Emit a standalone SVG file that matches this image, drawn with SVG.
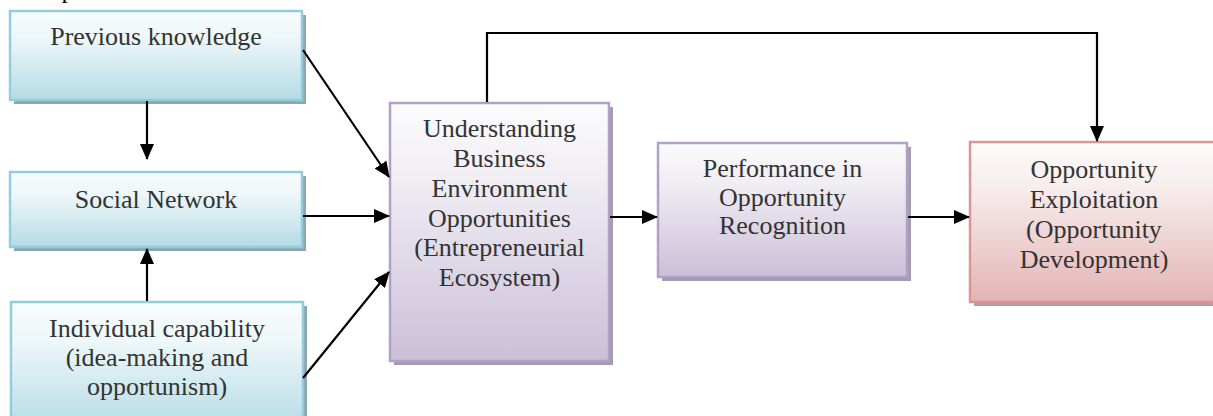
<svg xmlns="http://www.w3.org/2000/svg" width="1213" height="416" viewBox="0 0 1213 416">
  <defs>
    <linearGradient id="gAqua" x1="0" y1="0" x2="0" y2="1">
      <stop offset="0" stop-color="#f7fbfc"/>
      <stop offset="0.3" stop-color="#eef7f9"/>
      <stop offset="1" stop-color="#b4dbe5"/>
    </linearGradient>
    <linearGradient id="gLilac" x1="0" y1="0" x2="0" y2="1">
      <stop offset="0" stop-color="#fbfbfc"/>
      <stop offset="0.3" stop-color="#f0edf3"/>
      <stop offset="1" stop-color="#cbbfd9"/>
    </linearGradient>
    <linearGradient id="gRose" x1="0" y1="0" x2="0" y2="1">
      <stop offset="0" stop-color="#fdfbfb"/>
      <stop offset="0.3" stop-color="#f7ecec"/>
      <stop offset="1" stop-color="#e3b4b3"/>
    </linearGradient>
    <marker id="arrow" viewBox="0 0 16 14" refX="15" refY="7" markerWidth="16" markerHeight="14" markerUnits="userSpaceOnUse" orient="auto">
      <path d="M0,0 L16,7 L0,14 z" fill="#000"/>
    </marker>
  </defs>
  <style>
    .lbl { font-family: "Liberation Serif", "Times New Roman", serif; font-size: 26px; fill: #333; text-anchor: middle; }
    .aqua { fill: url(#gAqua); stroke: #93cddd; stroke-width: 2.5; }
    .aqua-sh { fill: #8ea7ae; }
    .lilac { fill: url(#gLilac); stroke: #b2a1c7; stroke-width: 2.5; }
    .lilac-sh { fill: #a49caf; }
    .rose { fill: url(#gRose); stroke: #d99694; stroke-width: 2.5; }
    .rose-sh { fill: #b59e9e; }
    .conn path { fill: none; stroke: #000; stroke-width: 2.2; }
  </style>
  <rect width="1213" height="416" fill="#fff"/>

  <!-- heading text cut off by the top edge -->
  <text class="lbl" x="68" y="-2" style="fill:#000">p</text>

  <g id="previous-knowledge">
    <rect class="aqua-sh" x="14" y="15" width="292" height="89"/>
    <rect class="aqua" x="10" y="11" width="292" height="89"/>
    <text class="lbl" x="156" y="45">Previous knowledge</text>
  </g>

  <g id="social-network">
    <rect class="aqua-sh" x="14" y="176" width="292" height="75"/>
    <rect class="aqua" x="10" y="172" width="292" height="75"/>
    <text class="lbl" x="156" y="208">Social Network</text>
  </g>

  <g id="individual-capability">
    <rect class="aqua-sh" x="15" y="306" width="292" height="130"/>
    <rect class="aqua" x="11" y="302" width="292" height="130"/>
    <text class="lbl" x="157" y="337">Individual capability</text>
    <text class="lbl" x="157" y="366">(idea-making and</text>
    <text class="lbl" x="157" y="395">opportunism)</text>
  </g>

  <g id="business-environment">
    <rect class="lilac-sh" x="394" y="107" width="219" height="258"/>
    <rect class="lilac" x="390" y="103" width="219" height="258"/>
    <text class="lbl" x="499.5" y="137">Understanding</text>
    <text class="lbl" x="499.5" y="167">Business</text>
    <text class="lbl" x="499.5" y="197">Environment</text>
    <text class="lbl" x="499.5" y="227">Opportunities</text>
    <text class="lbl" x="499.5" y="256">(Entrepreneurial</text>
    <text class="lbl" x="499.5" y="286">Ecosystem)</text>
  </g>

  <g id="opportunity-recognition">
    <rect class="lilac-sh" x="662" y="147" width="249" height="134"/>
    <rect class="lilac" x="658" y="143" width="249" height="134"/>
    <text class="lbl" x="782.5" y="177">Performance in</text>
    <text class="lbl" x="782.5" y="206">Opportunity</text>
    <text class="lbl" x="782.5" y="234">Recognition</text>
  </g>

  <g id="opportunity-exploitation">
    <rect class="rose-sh" x="974" y="146" width="249" height="160"/>
    <rect class="rose" x="970" y="142" width="249" height="160"/>
    <text class="lbl" x="1094" y="178">Opportunity</text>
    <text class="lbl" x="1094" y="208">Exploitation</text>
    <text class="lbl" x="1094" y="238">(Opportunity</text>
    <text class="lbl" x="1094" y="268">Development)</text>
  </g>

  <g id="connectors" class="conn">
    <path d="M147,101 L147,159" marker-end="url(#arrow)"/>
    <path d="M147,301 L147,249" marker-end="url(#arrow)"/>
    <path d="M303,50 L389,177" marker-end="url(#arrow)"/>
    <path d="M303,216 L389,216" marker-end="url(#arrow)"/>
    <path d="M303,378 L389,272" marker-end="url(#arrow)"/>
    <path d="M610,217 L657,217" marker-end="url(#arrow)"/>
    <path d="M908,217 L969,217" marker-end="url(#arrow)"/>
    <path d="M487,102 L487,33 L1097,33 L1097,141" marker-end="url(#arrow)"/>
  </g>
</svg>
